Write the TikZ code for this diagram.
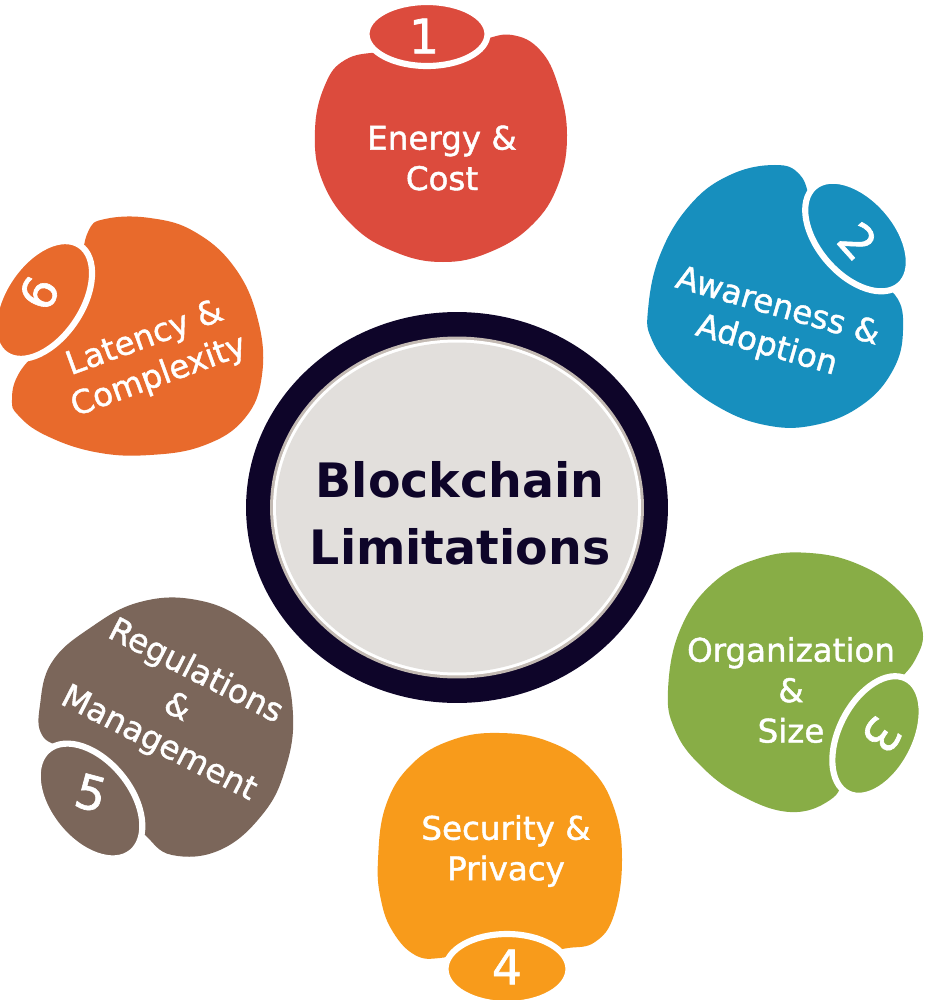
\documentclass[tikz,border=0pt]{standalone}
\usepackage{fontspec}
\setmainfont{DejaVu Sans}
\newfontfamily\blobfont{DejaVu Sans}[FakeBold=1.3]
\usetikzlibrary{shapes.geometric}

\definecolor{redblob}{HTML}{DC4B3D}
\definecolor{blueblob}{HTML}{178FBE}
\definecolor{greenblob}{HTML}{88AD46}
\definecolor{amberblob}{HTML}{F89B1B}
\definecolor{brownblob}{HTML}{7B665A}
\definecolor{orangeblob}{HTML}{E86A2C}
\definecolor{ringdark}{HTML}{0E0529}
\definecolor{discrim}{HTML}{C3BAB3}
\definecolor{discfill}{HTML}{E2DFDC}

\begin{document}
\begin{tikzpicture}[x=0.02cm, y=-0.02cm,
  tab/.style={ellipse, draw=white, line width=3.5pt, inner sep=0pt},
  lbl/.style={text=white, font=\blobfont\fontsize{18.5}{23}\selectfont, align=center},
  num/.style={text=white, font=\blobfont\fontsize{27}{27}\selectfont},
]
\useasboundingbox[fill=white] (0,0) rectangle (927,1000);

% === centre ===
\node[ellipse, fill=ringdark, minimum width=8.44cm, minimum height=7.82cm] (ring) at (457,507.5) {};
\node[ellipse, fill=discrim, minimum width=7.48cm, minimum height=6.84cm] (rim) at (ring.center) {};
\node[ellipse, fill=white, minimum width=7.36cm, minimum height=6.72cm] (glow) at (ring.center) {};
\node[ellipse, fill=discfill, minimum width=7.24cm, minimum height=6.60cm] (disc) at (ring.center) {};
\node[text=ringdark, font=\fontsize{27}{38}\selectfont\bfseries, align=center] (title) at (460,513) {Blockchain\\Limitations};

% === 1 ===
\fill[redblob] plot[smooth cycle, tension=0.7] coordinates {(315,130) (325,85) (345,60) (380,52) (430,50) (480,40) (512,35) (540,50) (558,85) (567,135) (558,185) (532,225) (490,252) (443,262) (395,252) (352,225) (322,180)};
\node[tab, fill=redblob, minimum width=2.42cm, minimum height=1.28cm] (tab1) at (427,34) {};
\node[num] (n1) at (424,36) {1};
\node[lbl] (t1) at (442,158) {Energy \&\\Cost};

% === 2 ===
\fill[blueblob] plot[smooth cycle, tension=0.7] coordinates {(648,310) (660,255) (690,205) (730,175) (775,165) (800,175) (812,205) (830,250) (860,275) (895,295) (903,330) (893,370) (862,405) (815,425) (765,425) (715,405) (675,372) (652,340)};
\node[tab, fill=blueblob, minimum width=2.60cm, minimum height=1.56cm, rotate=-49] (tab2) at (857,236) {};
\node[num, rotate=-48] (n2) at (858,241) {2};
\node[lbl, rotate=-16] (t2) at (772,327) {Awareness \&\\Adoption};

% === 3 ===
\fill[greenblob] plot[smooth cycle, tension=0.7] coordinates {(668,690) (680,630) (713,583) (760,558) (810,553) (860,565) (900,592) (922,628) (915,660) (890,690) (860,730) (845,775) (830,800) (790,812) (740,795) (700,765) (675,730)};
\node[tab, fill=greenblob, minimum width=2.57cm, minimum height=1.52cm, rotate=63] (tab3) at (877,736) {};
\node[num, rotate=-125] (n3) at (882,735) {3};
\node[lbl] (t3) at (791,690) {Organization\\\&\\Size};

% === 4 ===
\fill[amberblob] plot[smooth cycle, tension=0.7] coordinates {(378,860) (386,805) (412,764) (452,740) (500,733) (550,742) (590,768) (614,808) (622,860) (614,915) (595,942) (568,948) (545,950) (507,945) (470,950) (440,958) (415,955) (393,932) (381,900)};
\node[tab, fill=amberblob, minimum width=2.46cm, minimum height=1.40cm] (tab4) at (507,969) {};
\node[num] (n4) at (507,967) {4};
\node[lbl] (t4) at (506,851) {Security \&\\Privacy};

% === 5 ===
\fill[brownblob] plot[smooth cycle, tension=0.7] coordinates {(40,705) (52,662) (90,628) (140,602) (197,600) (247,622) (280,660) (293,715) (285,770) (262,815) (220,850) (172,855) (145,835) (125,815) (100,775) (65,750) (42,735)};
\node[tab, fill=brownblob, minimum width=2.64cm, minimum height=1.64cm, rotate=-51] (tab5) at (90,801) {};
\node[num, rotate=-15] (n5) at (91,793) {5};
\node[lbl, rotate=-27] (t5) at (177,708) {Regulations\\\&\\Management};

% === 6 ===
\fill[orangeblob] plot[smooth cycle, tension=0.7] coordinates {(12,400) (18,375) (40,348) (70,315) (80,270) (88,232) (105,219) (150,218) (195,232) (235,268) (258,320) (262,375) (245,418) (205,445) (150,455) (95,452) (45,435) (18,415)};
\node[tab, fill=orangeblob, minimum width=2.64cm, minimum height=1.56cm, rotate=56] (tab6) at (43,300) {};
\node[num, rotate=65] (n6) at (39,293) {6};
\node[lbl, rotate=20] (t6) at (152,358) {Latency \&\\Complexity};

\end{tikzpicture}
\end{document}
